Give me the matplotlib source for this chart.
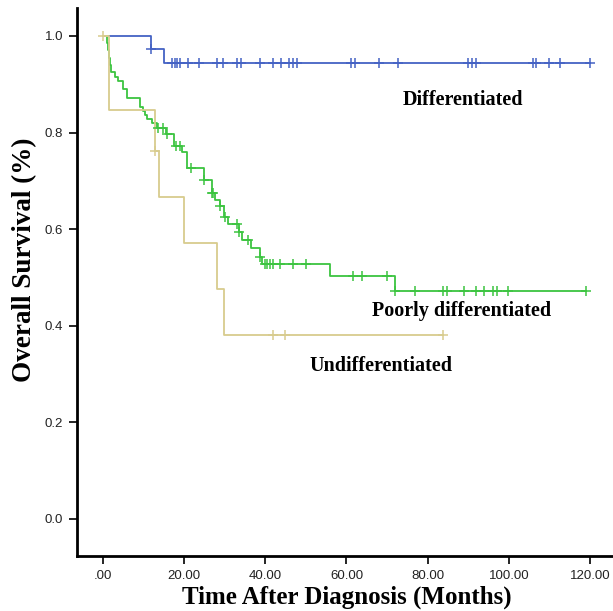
import numpy as np
import matplotlib.pyplot as plt

# Kaplan-Meier steps: (month of drop, survival after drop)
diff_times = [11.8, 15.0]
diff_surv = [0.973, 0.945]
diff_end = 120.0
diff_cens = [11.8, 16.9, 17.7, 18.3, 19.0, 21.0, 23.7, 28.0, 29.6, 32.9, 33.9,
             38.8, 41.8, 43.8, 45.9, 46.9, 47.9, 61.2, 62.1, 67.9, 72.8,
             90.0, 90.8, 92.0, 106.0, 106.8, 109.9, 112.7, 120.0]

poor_times = [0.9, 1.2, 1.5, 1.8, 2.0, 3.0, 3.8, 5.0, 5.8, 9.1, 9.8, 10.3, 10.9,
              12.0, 13.2, 15.5, 17.5, 19.5, 20.8, 24.9, 26.9, 27.6, 28.8, 29.8,
              30.9, 33.6, 34.2, 36.5, 38.7, 39.1, 55.9, 71.9]
poor_surv = [0.985, 0.970, 0.955, 0.940, 0.925, 0.916, 0.906, 0.891, 0.871, 0.852,
             0.844, 0.836, 0.828, 0.820, 0.809, 0.796, 0.773, 0.760, 0.726, 0.701,
             0.674, 0.660, 0.648, 0.625, 0.610, 0.593, 0.578, 0.560, 0.543, 0.527,
             0.503, 0.471]
poor_end = 119.1
poor_cens = [13.6, 14.9, 15.7, 18.1, 19.0, 21.8, 24.9, 26.9, 27.2, 28.8, 30.0,
             32.9, 33.6, 35.8, 38.7, 39.9, 40.5, 41.1, 41.8, 43.7, 46.9, 50.0,
             61.7, 63.7, 69.9, 71.9, 76.8, 83.8, 84.8, 88.9, 92.0, 93.8, 96.0,
             97.0, 99.8, 119.1]

undiff_times = [1.6, 12.8, 13.8, 20.0, 28.0, 29.8]
undiff_surv = [0.846, 0.762, 0.667, 0.571, 0.476, 0.381]
undiff_end = 83.8
undiff_cens = [0.0, 12.8, 41.9, 44.8, 83.8]

groups = [
    ('Differentiated', diff_times, diff_surv, diff_end, diff_cens, '#4462c4'),
    ('Poorly differentiated', poor_times, poor_surv, poor_end, poor_cens, '#3cc440'),
    ('Undifferentiated', undiff_times, undiff_surv, undiff_end, undiff_cens, '#d8cc8e'),
]

x_ticks = [0, 20, 40, 60, 80, 100, 120]
x_labels = ['.00', '20.00', '40.00', '60.00', '80.00', '100.00', '120.00']
y_ticks = [0.0, 0.2, 0.4, 0.6, 0.8, 1.0]

fig = plt.figure(figsize=(6.13, 6.11), dpi=100)
ax = fig.add_axes([0.1256, 0.09, 0.874, 0.897])

for name, times, surv, end, cens, col in groups:
    t = np.array([0.0] + times + [end])
    s = np.array([1.0] + surv + [surv[-1]])
    ax.step(t, s, where='post', color=col, lw=1.3, zorder=2)
    cens = np.array(cens)
    idx = np.searchsorted(t, cens, side='right') - 1
    ax.plot(cens, s[idx], ls='none', marker='+', ms=7, mew=1.1, color=col, zorder=3)

serif = 'Liberation Serif'
ax.text(88.7, 0.867, 'Differentiated', fontsize=14.5, fontweight='bold', family=serif, ha='center', va='center')
ax.text(88.4, 0.43, 'Poorly differentiated', fontsize=14.5, fontweight='bold', family=serif, ha='center', va='center')
ax.text(68.5, 0.317, 'Undifferentiated', fontsize=14.5, fontweight='bold', family=serif, ha='center', va='center')

ax.set_xlim(-6.4, 125.6)
ax.set_ylim(-0.077, 1.058)
ax.set_xticks(x_ticks)
ax.set_xticklabels(x_labels)
ax.set_yticks(y_ticks)
ax.set_yticklabels([f'{v:.1f}' for v in y_ticks])
for lab in ax.get_xticklabels() + ax.get_yticklabels():
    lab.set_family('Liberation Sans')
    lab.set_fontsize(9.5)
    lab.set_color('#222222')
ax.tick_params(direction='out', length=6, width=1.2, pad=4)

for side in ['top', 'right']:
    ax.spines[side].set_visible(False)
for side in ['left', 'bottom']:
    ax.spines[side].set_linewidth(2)

ax.set_xlabel('Time After Diagnosis (Months)', fontsize=18, fontweight='bold', family=serif, va='center')
ax.xaxis.set_label_coords(0.504, -0.075)
ax.set_ylabel('Overall Survival (%)', fontsize=19.5, fontweight='bold', family=serif, va='center')
ax.yaxis.set_label_coords(-0.097, 0.54)

fig.savefig('out.png', dpi=100)
